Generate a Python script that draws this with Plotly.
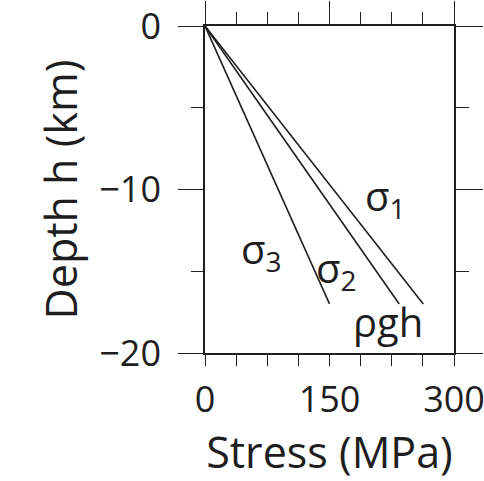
import plotly.graph_objects as go

# Data
depth_km = [0, -17]
sigma1_end = 263   # MPa at 17 km
sigma2_end = 234
sigma3_end = 150
line_names = ["σ1", "σ2", "σ3"]
line_ends = [sigma1_end, sigma2_end, sigma3_end]

x_ticks = [0, 150, 300]
y_ticks = [0, -10, -20]

labels = ["σ<sub>1</sub>", "σ<sub>3</sub>", "σ<sub>2</sub>", "ρgh"]
label_x = [217, 68, 159, 220]
label_y = [-10.5, -13.7, -14.9, -18.1]

INK = "#1e1e1e"
FONT = "Open Sans"

fig = go.Figure()
for name, end in zip(line_names, line_ends):
    fig.add_trace(go.Scatter(x=[0, end], y=depth_km, mode="lines", name=name,
                             line=dict(color=INK, width=1.6), showlegend=False,
                             hoverinfo="skip"))
# invisible trace to activate the mirror axes
fig.add_trace(go.Scatter(x=[0], y=[0], xaxis="x2", yaxis="y2", mode="markers",
                         marker=dict(opacity=0), showlegend=False, hoverinfo="skip"))

for t, xx, yy in zip(labels, label_x, label_y):
    fig.add_annotation(x=xx, y=yy, text=t, showarrow=False,
                       font=dict(family=FONT, size=40, color=INK))

common = dict(showgrid=False, zeroline=False, showline=True, linewidth=1.5,
              linecolor=INK, ticks="outside", tickwidth=1.3, tickcolor=INK,
              automargin=False)

fig.update_layout(
    width=484, height=481,
    margin=dict(l=205, r=30, t=26, b=128),
    plot_bgcolor="white", paper_bgcolor="white",
    font=dict(family=FONT, color=INK),
    xaxis=dict(range=[0, 300], tickvals=x_ticks, ticklen=11,
               tickfont=dict(size=36), ticklabelstandoff=3,
               ticklabeloverflow="allow",
               title=dict(text="Stress (MPa)", font=dict(size=43), standoff=12),
               minor=dict(dtick=37.5, tick0=0, ticks="outside", ticklen=11,
                          tickwidth=1.3, tickcolor=INK),
               **common),
    xaxis2=dict(range=[0, 300], overlaying="x", side="top", tickvals=x_ticks,
                ticklen=23, showticklabels=False,
                minor=dict(dtick=37.5, tick0=0, ticks="outside", ticklen=12,
                           tickwidth=1.3, tickcolor=INK),
                **common),
    yaxis=dict(range=[-20, 0], tickvals=y_ticks, ticklen=25,
               tickfont=dict(size=36), ticklabelstandoff=10,
               ticklabeloverflow="allow",
               title=dict(text="Depth h (km)", font=dict(size=43), standoff=8),
               minor=dict(dtick=5, tick0=0, ticks="outside", ticklen=12,
                          tickwidth=1.3, tickcolor=INK),
               **common),
    yaxis2=dict(range=[-20, 0], overlaying="y", side="right", tickvals=y_ticks,
                ticklen=27, showticklabels=False,
                minor=dict(dtick=5, tick0=0, ticks="outside", ticklen=13,
                           tickwidth=1.3, tickcolor=INK),
                **common),
)

fig.write_html("out.html")
